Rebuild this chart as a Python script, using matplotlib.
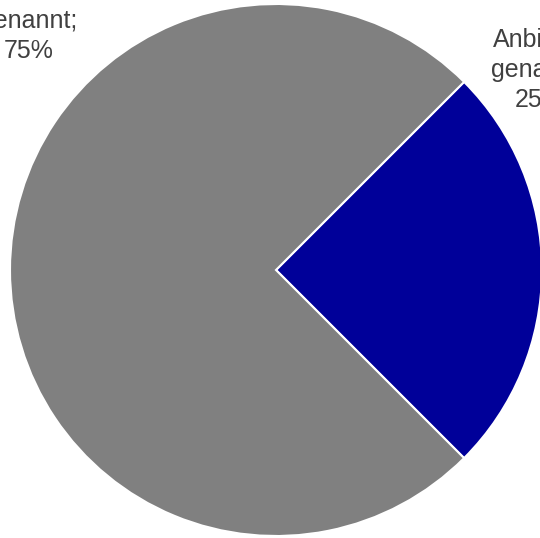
import matplotlib.pyplot as plt

labels = ["Anbieter\ngenannt;\n25%", "Nicht\ngenannt;\n75%"]
shares = [25, 75]
colors = ["#000099", "#808080"]
label_pos = [(0.99, 0.752), (-0.93, 0.936)]


def main():
    plt.rcParams['font.family'] = ['Liberation Sans', 'DejaVu Sans']
    fig = plt.figure(figsize=(5.4, 5.38), dpi=100)
    ax = fig.add_axes([0, 0, 1, 1])

    ax.pie(shares, colors=colors, startangle=-45, counterclock=True,
           radius=1.0, center=(0, 0),
           wedgeprops=dict(edgecolor='white', linewidth=1.5))

    for text, (x, y) in zip(labels, label_pos):
        ax.text(x, y, text, ha='center', va='center', fontsize=18,
                color='#404040', linespacing=1.32)

    # pie runs slightly past the right edge
    ax.set_xlim(-276 / 266, 264 / 266)
    ax.set_ylim(-268 / 266, 270 / 266)
    ax.set_aspect('auto')
    ax.axis('off')

    fig.savefig("out.png", dpi=100)


if __name__ == '__main__':
    main()
